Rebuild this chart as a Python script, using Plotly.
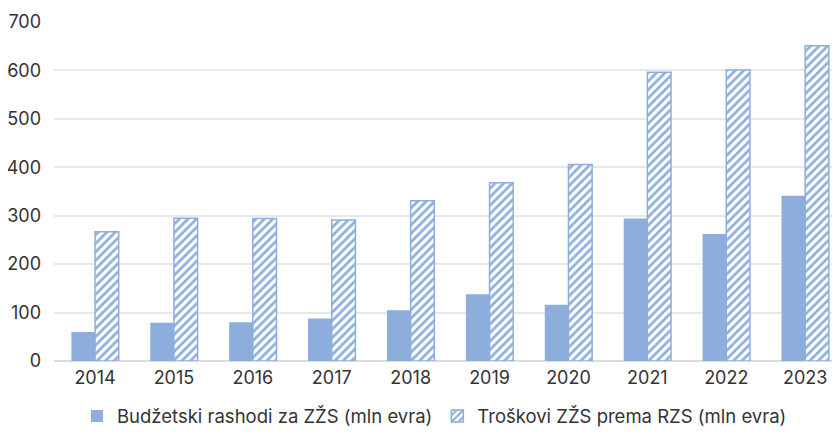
import plotly.graph_objects as go

years = ["2014", "2015", "2016", "2017", "2018", "2019", "2020", "2021", "2022", "2023"]
budget = [60, 79, 80, 88, 105, 138, 116, 294, 262, 341]
costs = [267, 295, 294, 291, 331, 368, 406, 596, 601, 651]
name_budget = "Budžetski rashodi za ZŽS (mln evra)"
name_costs = "Troškovi ZŽS prema RZS (mln evra)"

blue = "#8DAEDC"
x = list(range(len(years)))

fig = go.Figure()
fig.add_trace(go.Bar(
    x=x, y=budget, name=name_budget,
    marker=dict(color=blue, line=dict(width=0)),
))
fig.add_trace(go.Bar(
    x=x, y=costs, name=name_costs,
    marker=dict(color="white",
                line=dict(color=blue, width=1.5),
                pattern=dict(shape="/", fgcolor=blue, bgcolor="white",
                             size=6, solidity=0.45, fillmode="replace")),
))

fig.update_layout(
    width=824, height=428,
    margin=dict(l=46, r=0, t=14, b=66),
    paper_bgcolor="white", plot_bgcolor="white",
    barmode="group", bargap=0.4, bargroupgap=0,
    font=dict(family="Inter", size=18, color="#333333"),
    showlegend=True,
    legend=dict(orientation="h", x=0.489, xanchor="center", y=-0.164,
                yanchor="middle", font=dict(size=18.5, color="#333333"),
                itemwidth=30, traceorder="normal", tracegroupgap=0),
    xaxis=dict(tickmode="array", tickvals=x, ticktext=years,
               range=[-0.52, 9.34], showgrid=False, zeroline=False,
               showline=False, ticks="", tickfont=dict(size=18),
               ticklabelstandoff=4, automargin=False),
    yaxis=dict(range=[0, 700], dtick=100, showgrid=True, gridcolor="#E8E8E8",
               gridwidth=1.5, zeroline=True, zerolinecolor="#DCDCDC",
               zerolinewidth=2, showline=False, ticks="", ticklabelstandoff=12,
               tickfont=dict(size=18), automargin=False),
)

fig.write_html("out.html", config={"displayModeBar": False})
